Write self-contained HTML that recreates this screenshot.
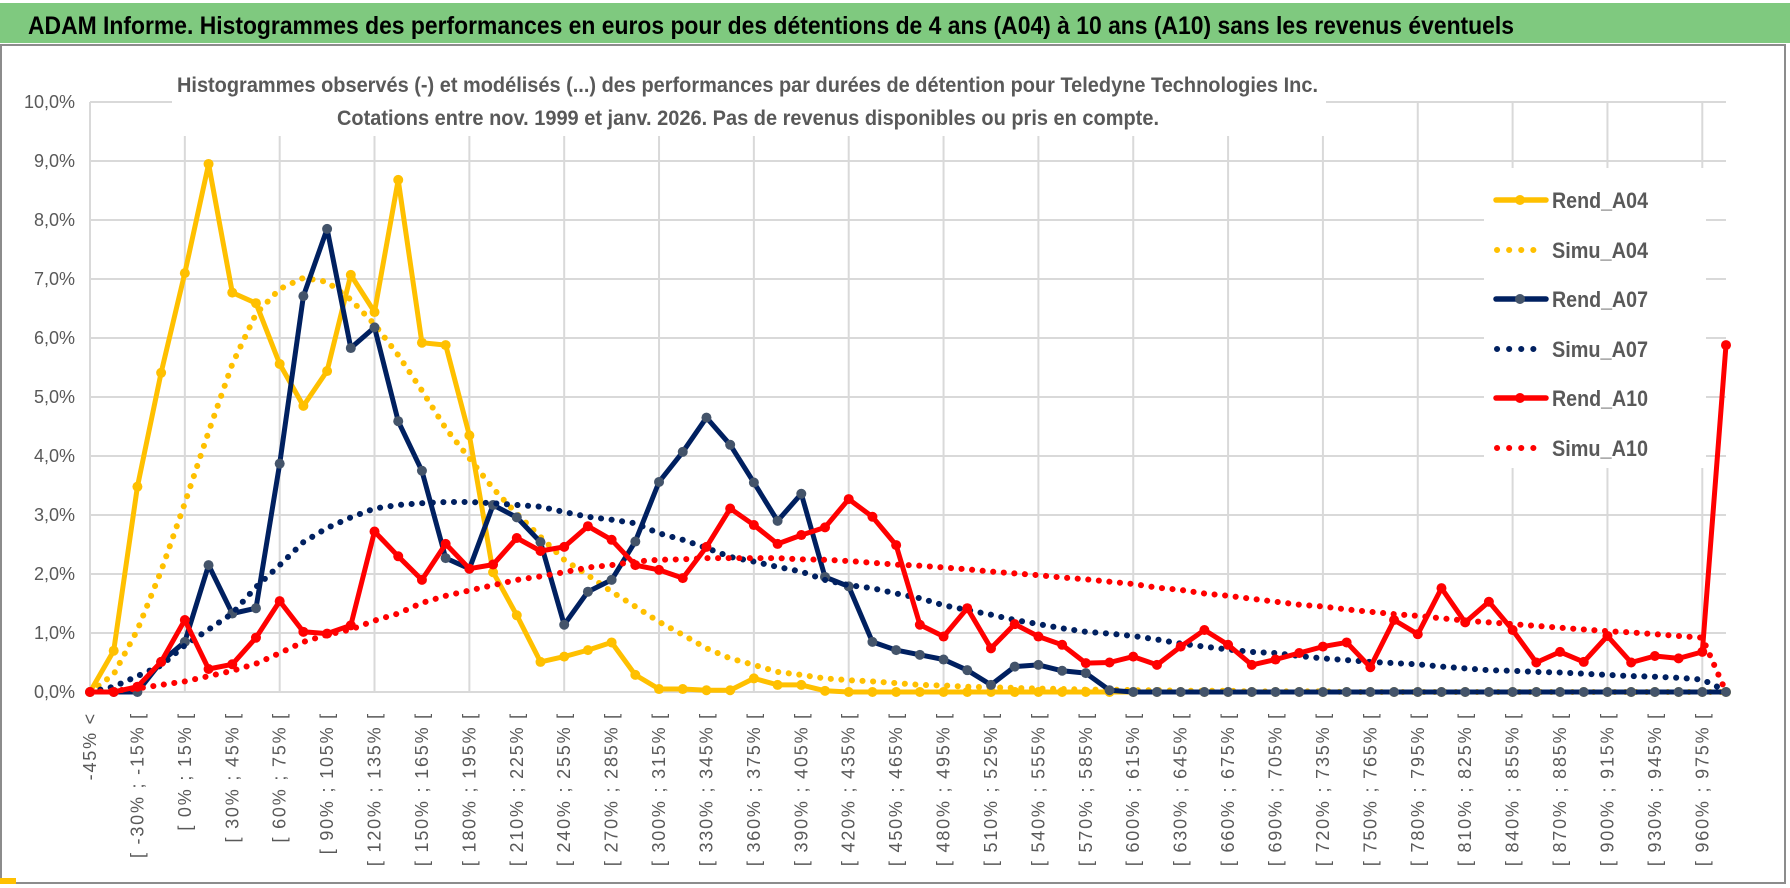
<!DOCTYPE html>
<html><head><meta charset="utf-8">
<style>
html,body{margin:0;padding:0;background:#fff;}
#wrap{position:relative;width:1790px;height:888px;overflow:hidden;background:#fff;}
svg text{font-family:"Liberation Sans Narrow","Liberation Sans",sans-serif;}
</style></head>
<body>
<div id="wrap">
<svg id="chart" width="1790" height="888" viewBox="0 0 1790 888">
  <rect x="0" y="3" width="1790" height="40" fill="#7fc97f"/>
  <text x="28" y="34" font-size="25" font-weight="bold" fill="#000" textLength="1486" lengthAdjust="spacingAndGlyphs">ADAM Informe. Histogrammes des performances en euros pour des détentions de 4 ans (A04) à 10 ans (A10) sans les revenus éventuels</text>
  <rect x="1" y="45" width="1784" height="838" fill="none" stroke="#8c8c8c" stroke-width="2"/>
  <rect x="0" y="878" width="16" height="6" fill="#ffc000"/>
  <g id="grid"></g>
  <rect x="172" y="66" width="1154" height="70" fill="#fff"/>
  <text x="177" y="92" font-size="21" font-weight="bold" fill="#595959" textLength="1141" lengthAdjust="spacingAndGlyphs">Histogrammes observés (-) et modélisés (...) des performances par durées de détention pour Teledyne Technologies Inc.</text>
  <text x="337" y="125" font-size="21" font-weight="bold" fill="#595959" textLength="822" lengthAdjust="spacingAndGlyphs">Cotations entre nov. 1999 et janv. 2026. Pas de revenus disponibles ou pris en compte.</text>
  <g id="yticks"></g>
  <g id="xticks"></g>
  <g id="series"></g>
  <rect x="1484" y="168" width="222" height="300" fill="#fff"/>
  <g id="legend"></g>
</svg>
</div>
<script>
const catLabels = ["-45% <"];
for (let a = -45; a < 975; a += 15) catLabels.push("[ " + a + "% ; " + (a + 15) + "% [");
catLabels.push("975% >");
const yTicks = [0,1,2,3,4,5,6,7,8,9,10];
const yTickLabels = ["0,0%","1,0%","2,0%","3,0%","4,0%","5,0%","6,0%","7,0%","8,0%","9,0%","10,0%"];
const seriesNames = ["Rend_A04","Simu_A04","Rend_A07","Simu_A07","Rend_A10","Simu_A10"];
const rendA04 = [0,0.70,3.48,5.41,7.10,8.95,6.77,6.59,5.56,4.85,5.44,7.07,6.44,8.68,5.92,5.88,4.35,2.03,1.30,0.51,0.60,0.71,0.84,0.29,0.05,0.05,0.03,0.03,0.23,0.12,0.12,0.02,0,0,0,0,0,0,0,0,0,0,0,0,0,0,0,0,0,0,0,0,0,0,0,0,0,0,0,0,0,0,0,0,0,0,0,0,0,0];
const simuA04 = [0,0.30,1.05,2.05,3.20,4.41,5.56,6.41,6.83,7.02,6.95,6.65,6.23,5.71,5.11,4.47,3.96,3.45,3.02,2.63,2.24,1.98,1.70,1.45,1.19,0.97,0.74,0.57,0.46,0.34,0.29,0.23,0.20,0.18,0.15,0.12,0.11,0.09,0.08,0.07,0.06,0.05,0.04,0.04,0.03,0.03,0.02,0.02,0.02,0.01,0.01,0.01,0.01,0,0,0,0,0,0,0,0,0,0,0,0,0,0,0,0,0];
const rendA07 = [0,0,0,0.51,0.85,2.15,1.33,1.42,3.87,6.71,7.85,5.83,6.18,4.59,3.75,2.27,2.09,3.17,2.96,2.54,1.14,1.70,1.90,2.55,3.56,4.07,4.65,4.19,3.55,2.90,3.36,1.95,1.79,0.85,0.71,0.63,0.55,0.37,0.12,0.43,0.46,0.36,0.32,0.03,0,0,0,0,0,0,0,0,0,0,0,0,0,0,0,0,0,0,0,0,0,0,0,0,0,0];
const simuA07 = [0,0.09,0.27,0.45,0.79,1.06,1.33,1.78,2.15,2.54,2.78,2.96,3.11,3.17,3.20,3.22,3.22,3.20,3.17,3.14,3.05,2.97,2.92,2.86,2.69,2.58,2.44,2.29,2.21,2.12,2.04,1.90,1.81,1.76,1.67,1.59,1.47,1.39,1.31,1.22,1.15,1.08,1.02,0.99,0.95,0.89,0.82,0.77,0.72,0.68,0.66,0.61,0.57,0.54,0.51,0.49,0.47,0.43,0.40,0.37,0.36,0.34,0.33,0.31,0.29,0.27,0.26,0.24,0.21,0.02];
const rendA10 = [0,0,0.09,0.51,1.22,0.39,0.47,0.92,1.54,1.02,0.99,1.13,2.72,2.30,1.90,2.51,2.09,2.16,2.61,2.39,2.46,2.81,2.58,2.15,2.07,1.93,2.46,3.11,2.83,2.51,2.66,2.79,3.27,2.97,2.49,1.14,0.94,1.42,0.74,1.15,0.94,0.80,0.49,0.50,0.60,0.46,0.77,1.05,0.80,0.46,0.55,0.66,0.77,0.84,0.42,1.22,0.98,1.76,1.18,1.53,1.05,0.50,0.68,0.51,0.95,0.50,0.61,0.57,0.68,5.88];
const simuA10 = [0,0.02,0.06,0.12,0.18,0.27,0.36,0.48,0.66,0.85,0.97,1.06,1.21,1.33,1.51,1.63,1.72,1.81,1.90,1.96,2.03,2.11,2.15,2.21,2.24,2.25,2.27,2.27,2.27,2.27,2.25,2.24,2.22,2.19,2.16,2.14,2.11,2.08,2.04,2.01,1.98,1.94,1.91,1.87,1.83,1.77,1.73,1.67,1.63,1.58,1.53,1.48,1.45,1.40,1.36,1.32,1.29,1.25,1.21,1.18,1.15,1.12,1.09,1.06,1.03,1.01,0.98,0.95,0.92,0];

const NS = "http://www.w3.org/2000/svg";
const X0 = 90, X1 = 1726, Y0 = 692, Y10 = 102;
const nCat = catLabels.length;
function xPos(i){ return X0 + (X1 - X0) * i / (nCat - 1); }
function yPos(v){ return Y0 - (Y0 - Y10) * v / 10; }
function mk(tag, attrs, parent){ const e = document.createElementNS(NS, tag); for (const k in attrs) e.setAttribute(k, attrs[k]); parent.appendChild(e); return e; }

const grid = document.getElementById("grid");
yTicks.forEach(function(t){
  const l = mk("line", {x1: X0, x2: X1, y1: yPos(t), y2: yPos(t), stroke: "#d9d9d9", "stroke-width": 2}, grid);
  
  
});
for (let i = 4; i < nCat; i += 4) {
  const l = mk("line", {x1: xPos(i), x2: xPos(i), y1: Y10, y2: Y0, stroke: "#d9d9d9", "stroke-width": 2}, grid);
  
  
}
mk("line", {x1: X0, x2: X0, y1: Y10, y2: Y0, stroke: "#d9d9d9", "stroke-width": 2}, grid);

const yt = document.getElementById("yticks");
yTicks.forEach(function(t, k){
  const tx = mk("text", {x: 75, y: yPos(t) + 6, "font-size": 18, fill: "#595959", "text-anchor": "end"}, yt);
  tx.textContent = yTickLabels[k];
  
  
});
const xt = document.getElementById("xticks");
catLabels.forEach(function(lab, i){
  if (i % 2 !== 0 || i === nCat - 1) return;
  const x = xPos(i) + 6;
  const tx = mk("text", {x: x, y: 712, "font-size": 18, fill: "#595959", "text-anchor": "end", "letter-spacing": "1.8", transform: "rotate(-90 " + x + " 712)"}, xt);
  tx.textContent = lab;
  
  
});

const styles = [
  {data: rendA04, color: "#ffc000", dotted: false, marker: "#ffc000", name: "rend-a04-line"},
  {data: simuA04, color: "#ffc000", dotted: true, name: "simu-a04-line"},
  {data: rendA07, color: "#002060", dotted: false, marker: "#44546a", name: "rend-a07-line"},
  {data: simuA07, color: "#002060", dotted: true, name: "simu-a07-line"},
  {data: rendA10, color: "#ff0000", dotted: false, marker: "#ff0000", name: "rend-a10-line"},
  {data: simuA10, color: "#ff0000", dotted: true, name: "simu-a10-line"}
];
const sg = document.getElementById("series");
styles.forEach(function(s){
  const pts = s.data.map(function(v, i){ return xPos(i).toFixed(1) + "," + yPos(v).toFixed(1); }).join(" ");
  const attrs = {points: pts, fill: "none", stroke: s.color, "stroke-linejoin": "round", "stroke-linecap": "round"};
  if (s.dotted) { attrs["stroke-width"] = 6; attrs["stroke-dasharray"] = "0.1 10.5"; }
  else { attrs["stroke-width"] = 5; }
  const pl = mk("polyline", attrs, sg);
  
  
  if (!s.dotted) {
    s.data.forEach(function(v, i){
      const c = mk("circle", {cx: xPos(i), cy: yPos(v), r: 5, fill: s.marker}, sg);
      
      
    });
  }
});

const lg = document.getElementById("legend");
const legY = [200, 250, 299, 349, 398, 448];
styles.forEach(function(s, k){
  const y = legY[k];
  const item = mk("g", {}, lg);
  
  
  const a = {x1: 1496, x2: 1546, y1: y, y2: y, stroke: s.color, "stroke-linecap": "round"};
  if (s.dotted) { a["stroke-width"] = 6; a["stroke-dasharray"] = "0.1 12"; a.x1 = 1497; a.x2 = 1538; if (k === 5) a.x2 = 1545; }
  else a["stroke-width"] = 5.5;
  mk("line", a, item);
  if (!s.dotted) mk("circle", {cx: 1520, cy: y, r: 5, fill: s.marker}, item);
  const t = mk("text", {x: 1552, y: y + 8, "font-size": 22, "font-weight": "bold", fill: "#595959", textLength: 96, lengthAdjust: "spacingAndGlyphs"}, item);
  t.textContent = seriesNames[k];
});
</script>
</body></html>
